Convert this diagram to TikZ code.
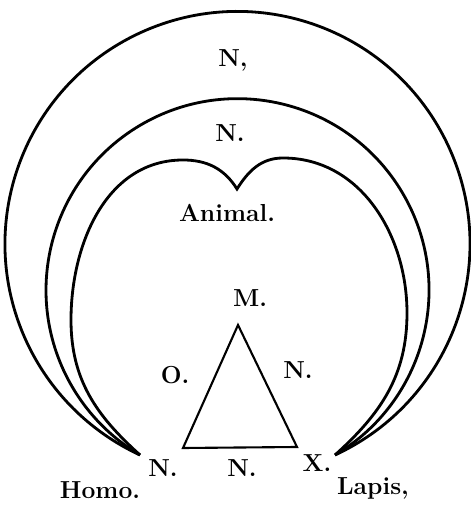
\documentclass[tikz,border=0pt]{standalone}
\usepackage{tikz}
\usetikzlibrary{positioning,calc}

\begin{document}
\begin{tikzpicture}[scale=1, line width=1.6pt,
    lbl/.style={font=\bfseries\fontsize{14}{16}\selectfont, inner sep=1pt}]

    % --- frame ---
                \useasboundingbox (0,0) rectangle (9.42,10.2);

    % --- points (Homo, Lapis, triangle) ---
                \coordinate (Th) at (2.8,1.1);    % tip at Homo
                \coordinate (Tl) at (6.7,1.1);    % tip at Lapis
                \coordinate (Tm) at (4.76,3.7);   % apex M
                \coordinate (To) at (3.66,1.24);  % base left
                \coordinate (Tx) at (5.94,1.26);  % base right

    % --- radii ---
                \def\Ro{4.65}   % outer
                \def\Rm{3.83}   % middle

    % --- outer and middle arcs ---
                \draw (Tl) arc[start angle=-65.2, end angle=245.2, radius=\Ro];
                \draw (Tl) arc[start angle=-59.4, end angle=239.4, radius=\Rm];

    % --- inner shape (two lobes) ---
                \coordinate (Il) at (1.42,3.8);
                \coordinate (Ia) at (3.66,7.0);
                \coordinate (Ic) at (4.74,6.42);
                \coordinate (Ib) at (5.66,7.04);
                \coordinate (Ir) at (8.14,3.94);
                \draw (Th) to[out=138, in=-90] (Il) to[out=90, in=180] (Ia)
                      to[out=0, in=122] (Ic) to[out=58, in=180] (Ib)
                      to[out=0, in=90] (Ir) to[out=-90, in=42] (Tl);

    % --- triangle ---
                \draw[line width=1.2pt, line join=miter] (Tm) -- (Tx) -- (To) -- cycle;

    % --- labels ---
                \node[lbl] (n1) at (4.66,9.0) {N,};
                \node[lbl] (n2) at (4.6,7.54) {N.};
                \node[lbl] (an) at (4.54,5.94) {Animal.};
                \node[lbl] (m) at (5.0,4.24) {M.};
                \node[lbl] (o) at (3.5,2.7) {O.};
                \node[lbl] (n3) at (5.96,2.8) {N.};
                \node[lbl] (n4) at (3.26,0.84) {N.};
                \node[lbl] (n5) at (4.84,0.84) {N.};
                \node[lbl] (x) at (6.34,0.94) {X.};
                \node[lbl] (homo) at (2.0,0.4) {Homo.};
                \node[lbl] (lapis) at (7.46,0.44) {Lapis,};

\end{tikzpicture}
\end{document}
